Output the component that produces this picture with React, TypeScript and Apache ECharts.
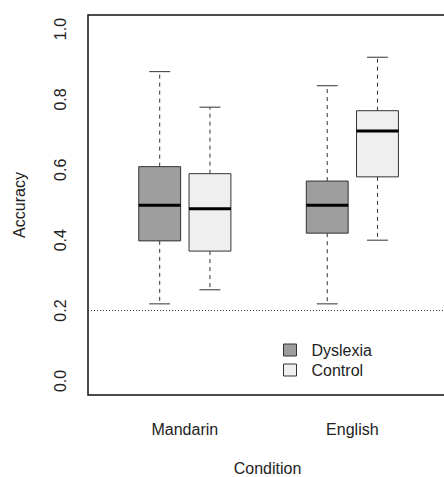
import React, { useEffect, useRef } from "react";
import * as echarts from "echarts";

// Data
const categories = ["Mandarin", "English"];
const groups = ["Dyslexia", "Control"];
// [lower whisker, Q1, median, Q3, upper whisker]
const dyslexiaStats = [
  [0.219, 0.398, 0.499, 0.609, 0.879],
  [0.219, 0.42, 0.499, 0.568, 0.839],
];
const controlStats = [
  [0.259, 0.369, 0.489, 0.589, 0.778],
  [0.4, 0.58, 0.71, 0.768, 0.92],
];
const yTicks = [0, 0.2, 0.4, 0.6, 0.8, 1.0];
const chanceLevel = 0.2;

const FONT = "Liberation Sans";
const BOX_W = 0.25; // in x-axis units
const GROUP_OFFSET = [0, 0.3];
const FILLS = ["#9e9e9e", "#efefef"];
const LINE = "#333";

function buildSeriesData(stats: number[][], offset: number) {
  return stats.map((s, i) => [i + 1 + offset, ...s]);
}

function renderBox(params: any, api: any) {
  const x = api.value(0);
  const lo = api.value(1);
  const q1 = api.value(2);
  const med = api.value(3);
  const q3 = api.value(4);
  const hi = api.value(5);
  const w = api.size([BOX_W, 0])[0];
  const pLo = api.coord([x, lo]);
  const pQ1 = api.coord([x, q1]);
  const pMed = api.coord([x, med]);
  const pQ3 = api.coord([x, q3]);
  const pHi = api.coord([x, hi]);
  const cx = pLo[0];
  const fill = api.visual("color");
  const dashStyle = { stroke: LINE, lineWidth: 1, lineDash: [4, 4] };
  const solid = { stroke: LINE, lineWidth: 1 };
  return {
    type: "group",
    children: [
      { type: "line", shape: { x1: cx, y1: pQ3[1], x2: cx, y2: pHi[1] }, style: dashStyle },
      { type: "line", shape: { x1: cx, y1: pQ1[1], x2: cx, y2: pLo[1] }, style: dashStyle },
      { type: "line", shape: { x1: cx - w / 4, y1: pHi[1], x2: cx + w / 4, y2: pHi[1] }, style: solid },
      { type: "line", shape: { x1: cx - w / 4, y1: pLo[1], x2: cx + w / 4, y2: pLo[1] }, style: solid },
      {
        type: "rect",
        shape: { x: cx - w / 2, y: pQ3[1], width: w, height: pQ1[1] - pQ3[1] },
        style: { fill, stroke: LINE, lineWidth: 1 },
      },
      {
        type: "line",
        shape: { x1: cx - w / 2, y1: pMed[1], x2: cx + w / 2, y2: pMed[1] },
        style: { stroke: "#000", lineWidth: 3 },
      },
    ],
  };
}

export default function App() {
  const ref = useRef<HTMLDivElement>(null);
  useEffect(() => {
    if (!ref.current) return;
    const chart = echarts.init(ref.current, null, { renderer: "svg" });
    const allStats = [dyslexiaStats, controlStats];
    chart.setOption({
      animation: false,
      backgroundColor: "#fff",
      textStyle: { fontFamily: FONT },
      grid: {
        left: 88,
        top: 15,
        right: -3,
        bottom: 82,
        show: true,
        borderColor: "#111",
        borderWidth: 1.5,
        backgroundColor: "transparent",
        containLabel: false,
        outerBoundsMode: "none",
      },
      xAxis: {
        type: "value",
        min: 0.572,
        max: 2.715,
        name: "Condition",
        nameLocation: "middle",
        nameGap: 65,
        nameTextStyle: { fontSize: 16, color: "#222", fontFamily: FONT },
        axisLine: { show: false },
        axisTick: { show: false },
        splitLine: { show: false },
        axisLabel: {
          customValues: categories.map((_, i) => i + 1 + 0.15),
          formatter: (v: number) => categories[Math.round(v - 1.15)] ?? "",
          fontSize: 16,
          color: "#222",
          margin: 26,
          fontFamily: FONT,
        },
      },
      yAxis: {
        type: "value",
        min: -0.04,
        max: 1.04,
        name: "Accuracy",
        nameLocation: "middle",
        nameGap: 61,
        nameRotate: 90,
        nameTextStyle: { fontSize: 16, color: "#222", fontFamily: FONT },
        axisLine: { show: false },
        axisTick: { show: false },
        splitLine: { show: false },
        axisLabel: {
          customValues: yTicks,
          formatter: (v: number) => v.toFixed(1),
          rotate: 90,
          fontSize: 16,
          color: "#222",
          margin: 20,
          fontFamily: FONT,
        },
      },
      legend: {
        orient: "vertical",
        left: 283,
        top: 342,
        padding: 0,
        itemWidth: 13,
        itemHeight: 12,
        itemGap: 4,
        icon: "rect",
        textStyle: {
          fontSize: 16,
          color: "#222",
          fontFamily: FONT,
          padding: [0, 0, 0, 10],
        },
        data: groups.map((g, i) => ({
          name: g,
          itemStyle: { color: FILLS[i], borderColor: LINE, borderWidth: 1 },
        })),
      },
      series: groups.map((g, gi) => ({
        type: "custom",
        name: g,
        itemStyle: { color: FILLS[gi], borderColor: LINE, borderWidth: 1 },
        encode: { x: 0, y: [1, 2, 3, 4, 5] },
        data: buildSeriesData(allStats[gi], GROUP_OFFSET[gi]),
        renderItem: renderBox,
        markLine:
          gi === 0
            ? {
                silent: true,
                symbol: "none",
                label: { show: false },
                lineStyle: { type: [1, 2], color: "#333", width: 1 },
                data: [{ yAxis: chanceLevel }],
              }
            : undefined,
      })),
    });
    return () => chart.dispose();
  }, []);
  return (
    <div
      ref={ref}
      style={{ position: "absolute", left: 0, top: 0, width: 444, height: 477 }}
    />
  );
}
